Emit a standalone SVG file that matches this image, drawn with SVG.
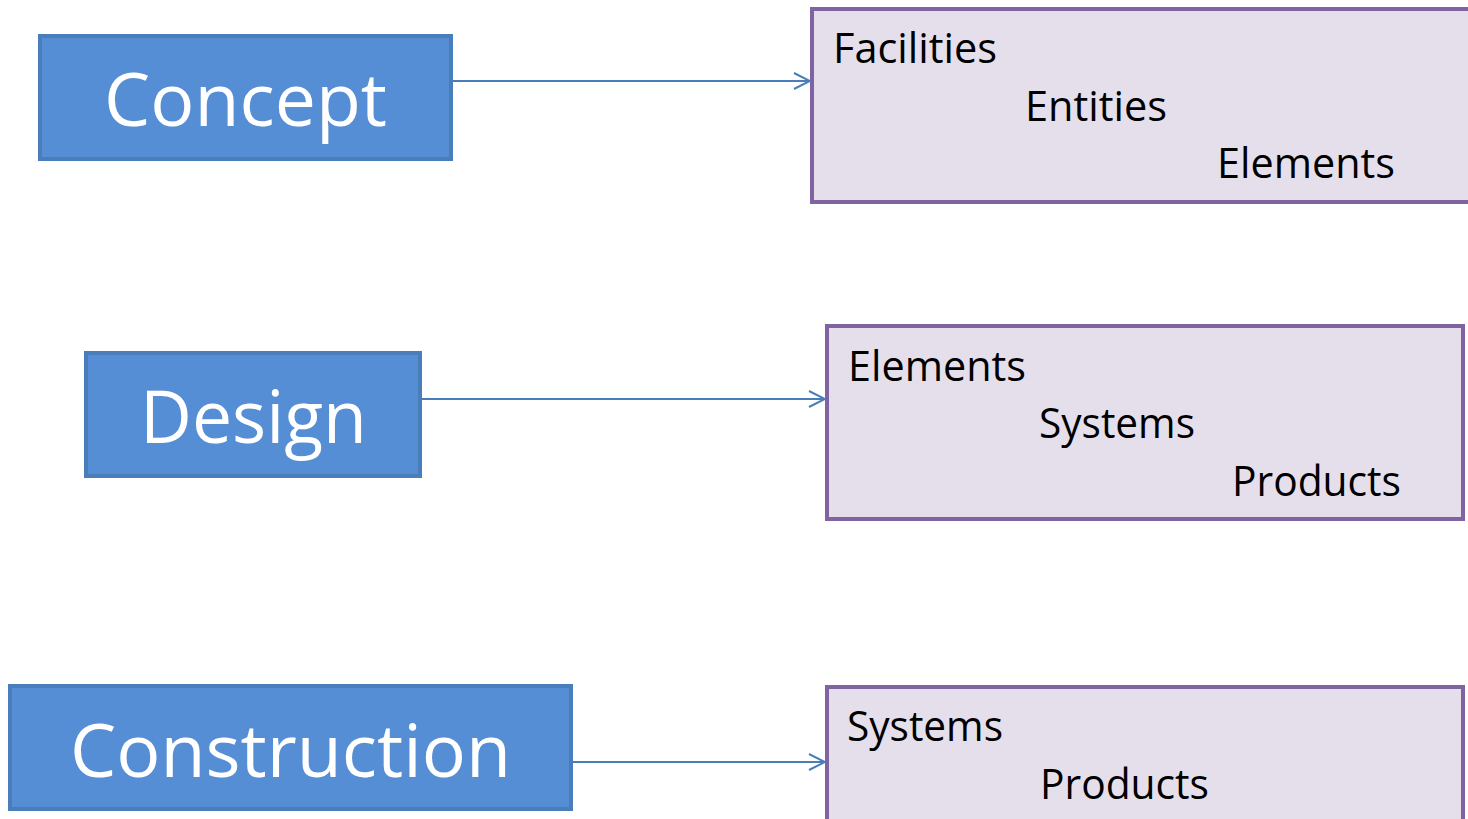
<svg xmlns="http://www.w3.org/2000/svg" width="1468" height="819" viewBox="0 0 1468 819">
<defs>
<style>
.stage{fill:#558ed5;stroke:#4a7ebb;stroke-width:4}
.stage-t{fill:#ffffff;font-family:"Open Sans","Noto Sans",sans-serif;font-size:74px}
.out{fill:#e5dfec;stroke:#8064a2;stroke-width:4}
.out-t{fill:#000000;font-family:"Open Sans","Noto Sans",sans-serif;font-size:42px}
.conn{stroke:#4a7ebb;stroke-width:2;fill:none}
</style>
<marker id="arr" viewBox="0 0 20 20" refX="18" refY="10" markerWidth="20" markerHeight="20" markerUnits="userSpaceOnUse" orient="auto">
<path d="M2,2 L18,10 L2,18" fill="none" stroke="#4a7ebb" stroke-width="2"/>
</marker>
</defs>
<rect width="1468" height="819" fill="#ffffff"/>
<g id="concept">
<rect class="stage" x="40" y="36" width="411" height="123"/>
<text class="stage-t" x="104" y="126" textLength="283" lengthAdjust="spacingAndGlyphs">Concept</text>
</g>
<g id="design">
<rect class="stage" x="86" y="353" width="334" height="123"/>
<text class="stage-t" x="140" y="443" textLength="227" lengthAdjust="spacingAndGlyphs">Design</text>
</g>
<g id="construction">
<rect class="stage" x="10" y="686" width="561" height="123"/>
<text class="stage-t" x="70" y="777" textLength="441" lengthAdjust="spacingAndGlyphs">Construction</text>
</g>
<g id="concept-out">
<rect class="out" x="812" y="9" width="670" height="193"/>
<text class="out-t" x="833" y="63" textLength="164" lengthAdjust="spacingAndGlyphs">Facilities</text>
<text class="out-t" x="1025" y="121" textLength="142" lengthAdjust="spacingAndGlyphs">Entities</text>
<text class="out-t" x="1217" y="178" textLength="178" lengthAdjust="spacingAndGlyphs">Elements</text>
</g>
<g id="design-out">
<rect class="out" x="827" y="326" width="636" height="193"/>
<text class="out-t" x="848" y="381" textLength="178" lengthAdjust="spacingAndGlyphs">Elements</text>
<text class="out-t" x="1039" y="438" textLength="156" lengthAdjust="spacingAndGlyphs">Systems</text>
<text class="out-t" x="1232" y="496" textLength="169" lengthAdjust="spacingAndGlyphs">Products</text>
</g>
<g id="construction-out">
<rect class="out" x="827" y="687" width="636" height="160"/>
<text class="out-t" x="847" y="741" textLength="156" lengthAdjust="spacingAndGlyphs">Systems</text>
<text class="out-t" x="1040" y="799" textLength="169" lengthAdjust="spacingAndGlyphs">Products</text>
</g>
<g id="connectors">
<line class="conn" x1="452" y1="81" x2="810" y2="81" marker-end="url(#arr)"/>
<line class="conn" x1="421" y1="399" x2="825" y2="399" marker-end="url(#arr)"/>
<line class="conn" x1="572" y1="762" x2="825" y2="762" marker-end="url(#arr)"/>
</g>
</svg>
